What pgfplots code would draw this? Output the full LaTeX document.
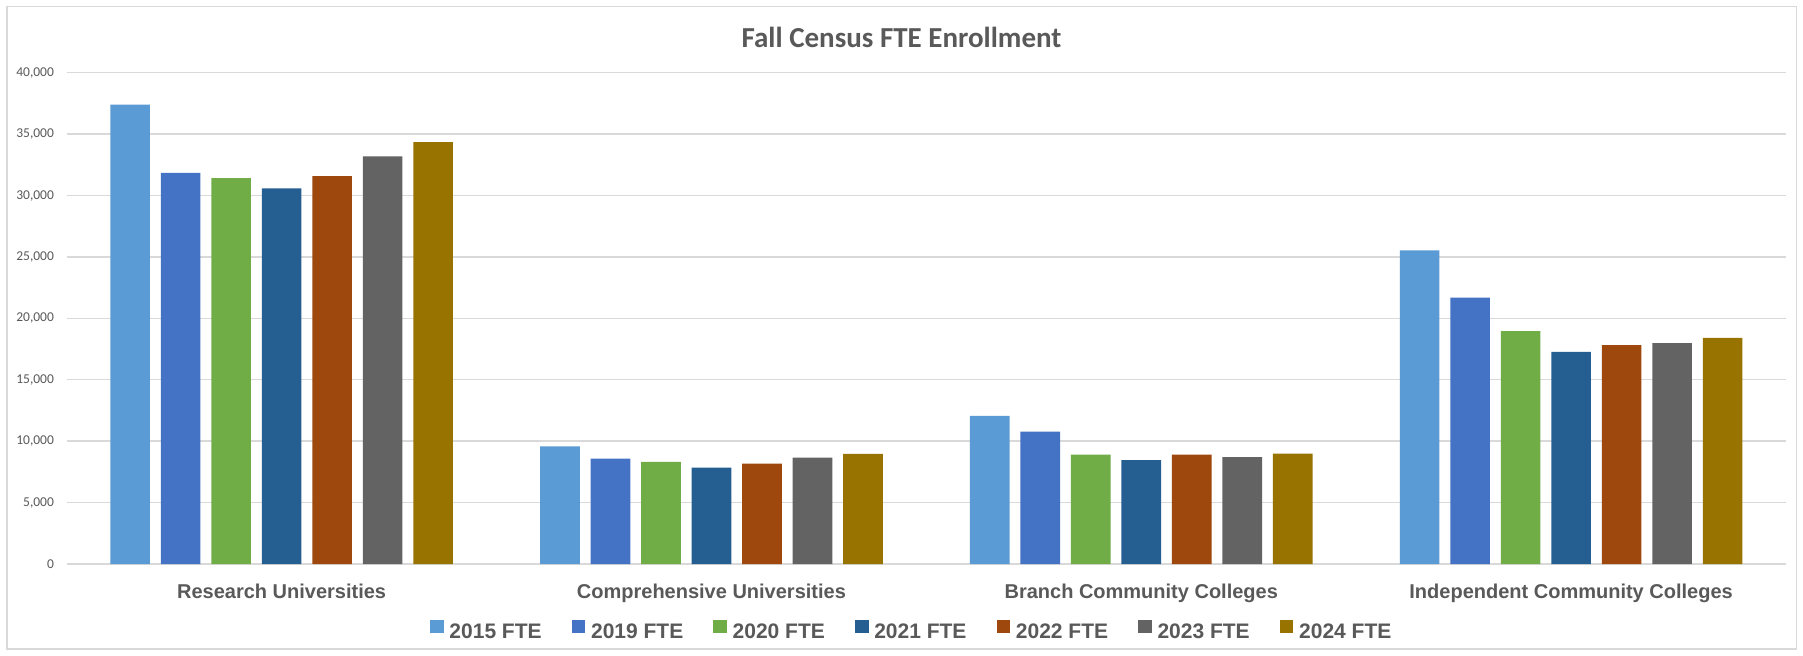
\documentclass[border=0pt]{standalone}
\usepackage{pgfplots}
\pgfplotsset{compat=1.18}
\usepackage{fontspec}
\setmainfont{Liberation Sans}
\newfontfamily\carlito{Carlito}
\definecolor{cA}{HTML}{5B9BD5}
\definecolor{cB}{HTML}{4472C4}
\definecolor{cC}{HTML}{70AD47}
\definecolor{cD}{HTML}{255E91}
\definecolor{cE}{HTML}{9E480E}
\definecolor{cF}{HTML}{636363}
\definecolor{cG}{HTML}{997300}
\definecolor{txt}{HTML}{595959}
\definecolor{gridc}{HTML}{D9D9D9}
\pgfplotsset{
  mybar/.style={ybar, bar width=19.85pt, draw=none, fill=#1,
    legend image code/.code={\fill[##1] (0pt,-0.2pt) rectangle (6.85pt,6.65pt);}},
}
\begin{document}
\begin{tikzpicture}
\useasboundingbox (0,0) rectangle (901.5pt,-327.5pt);
\fill[white] (0,0) rectangle (901.5pt,-327.5pt);
\draw[gridc, line width=0.6pt] (3.5pt,-3.25pt) rectangle (898.25pt,-324.5pt);
\node[anchor=base, font=\carlito\bfseries\fontsize{14.5}{17}\selectfont, text=txt, inner sep=0pt] at (450.75pt,-23.5pt) {Fall Census FTE Enrollment};
\begin{axis}[
  at={(33.35pt,-282pt)}, anchor=south west,
  scale only axis, width=859.65pt, height=245.65pt,
  xmin=-0.5, xmax=3.5, ymin=0, ymax=40000,
  axis line style={draw=none},
  ymajorgrids, grid style={gridc, line width=0.7pt},
  major tick length=0pt,
  xtick={0,1,2,3},
  xticklabels={Research Universities, Comprehensive Universities, Branch Community Colleges, Independent Community Colleges},
  ytick={0,5000,...,40000},
  scaled y ticks=false,
  yticklabel style={font=\carlito\fontsize{6.75}{8}\selectfont, text=txt, anchor=east, inner sep=0pt, xshift=-6.2pt,
    /pgf/number format/1000 sep={,}, /pgf/number format/assume math mode=true},
  xticklabel style={font=\bfseries\fontsize{10}{12}\selectfont, text=txt, anchor=base, inner sep=0pt, yshift=-17.1pt},
  legend columns=7,
  legend style={at={(0.4909,0)}, anchor=center, yshift=-33.4pt, draw=none, fill=none,
    font=\bfseries\fontsize{10.5}{12}\selectfont, text=txt, inner sep=0pt,
    nodes={inner sep=0pt},
    /tikz/every even column/.append style={column sep=15pt},
    /tikz/every odd column/.append style={column sep=2.85pt}},
]
\addplot[mybar=cA, bar shift=-75.75pt] coordinates {(0,37400) (1,9570) (2,12070) (3,25530)};
\addplot[mybar=cB, bar shift=-50.5pt] coordinates {(0,31850) (1,8590) (2,10770) (3,21680)};
\addplot[mybar=cC, bar shift=-25.25pt] coordinates {(0,31420) (1,8320) (2,8900) (3,18960)};
\addplot[mybar=cD, bar shift=0pt] coordinates {(0,30580) (1,7850) (2,8460) (3,17280)};
\addplot[mybar=cE, bar shift=25.25pt] coordinates {(0,31580) (1,8180) (2,8900) (3,17820)};
\addplot[mybar=cF, bar shift=50.5pt] coordinates {(0,33190) (1,8670) (2,8710) (3,17990)};
\addplot[mybar=cG, bar shift=75.75pt] coordinates {(0,34350) (1,8970) (2,8980) (3,18420)};
\legend{2015 FTE, 2019 FTE, 2020 FTE, 2021 FTE, 2022 FTE, 2023 FTE, 2024 FTE}
\end{axis}
\end{tikzpicture}
\end{document}
